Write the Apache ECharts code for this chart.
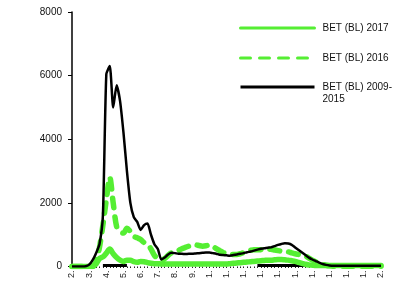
<!DOCTYPE html>
<html lang="en">
<head>
    <meta charset="UTF-8">
    <title>BET (BL)</title>
    <script type="text/javascript" src="https://cdn.jsdelivr.net/npm/echarts@6/dist/echarts.min.js"></script>
    <style>
        html, body { margin: 0; padding: 0; background: #fff; }
    </style>
</head>
<body>
<div id="main" style="width: 393px;height:281px;"></div>
<script>
    // labels shown on the x axis, one every 5 points
    var tickLabels = ['2.', '3.', '4.', '5.', '6.', '7.', '8.', '9.', '1.', '1.', '1.', '1.', '1.', '1.', '1.', '1.', '1.', '1.', '2.'];
    // point index
    var days = [];
    for (var d = 0; d < 91; d++) days.push(String(d));

    // BET (BL) 2017
    var s2017 = [0, 0, 0, 0, 0, 10, 30, 80, 250, 300,
        420, 550, 400, 280, 200, 160, 200, 200, 150, 130,
        160, 150, 120, 100, 90, 90, 80, 80, 80, 80,
        80, 80, 80, 80, 80, 80, 80, 80, 80, 80,
        80, 80, 80, 80, 80, 80, 90, 100, 110, 120,
        130, 140, 150, 160, 170, 180, 190, 200, 200, 210,
        220, 220, 210, 200, 180, 160, 130, 100, 70, 50,
        40, 30, 30, 30, 30, 30, 30, 30, 30, 30,
        30, 30, 30, 30, 30, 30, 30, 30, 30, 30, 30];
    // BET (BL) 2016
    var s2016 = [0, 0, 0, 0, 0, 0, 0, 150, 600, 1300,
        2100, 2800, 2000, 1250, 1100, 1050, 1200, 1100, 950, 900,
        850, 750, 700, 550, 350, 250, 200, 250, 350, 430,
        450, 500, 560, 600, 640, 680, 680, 660, 640, 650,
        680, 640, 560, 500, 440, 400, 380, 380, 380, 400,
        440, 480, 510, 530, 530, 530, 540, 550, 540, 520,
        500, 480, 470, 460, 430, 400, 380, 360, 330, 260,
        200, 150, 110, 70, 40, 20, 10, 10, 10, 10,
        10, 10, 10, 10, 10, 10, 10, 10, 10, 10, 10];
    // BET (BL) 2009-2015
    var s0915 = [0, 0, 0, 0, 10, 60, 200, 420, 700, 1600,
        6050, 6300, 5000, 5700, 5200, 4200, 3000, 2000, 1550, 1400,
        1150, 1300, 1350, 1000, 700, 550, 220, 280, 380, 430,
        420, 400, 400, 390, 400, 400, 410, 420, 430, 440,
        440, 420, 400, 370, 360, 350, 340, 360, 380, 400,
        420, 450, 470, 500, 530, 560, 570, 590, 600, 640,
        680, 710, 730, 720, 680, 600, 520, 440, 360, 280,
        220, 170, 120, 80, 50, 30, 20, 20, 20, 20,
        20, 20, 20, 20, 20, 20, 20, 20, 20, 20, 20];
    // low series sitting on the axis (not in legend)
    var sLow = [null, null, null, null, null, null, null, null, null, 30,
        30, 30, 30, 30, 30, 30, 30, null, null, null,
        null, null, null, null, null, null, null, null, null, null,
        null, null, null, null, null, null, null, null, null, null,
        null, null, null, null, null, null, null, null, null, null,
        null, null, null, null, 30, 30, 30, 30, 30, 30,
        30, 30, 30, 30, 30, 30, 30, 30, 30, 30,
        30, 30, 30, 30, 30, null, null, null, null, null,
        null, null, null, null, null, null, null, null, null, null, null];

    var green = '#55ee33';
    var font = 'Liberation Sans, Arial, sans-serif';

    function legendAt(top, name, fmt) {
        var l = {
            orient: 'vertical',
            left: 234,
            top: top,
            itemWidth: 74,
            itemHeight: 12,
            itemGap: 0,
            data: [name],
            lineStyle: {width: 3},
            itemStyle: {opacity: 0},
            textStyle: {fontFamily: font, fontSize: 10, color: '#111', lineHeight: 12, padding: [0, 0, 0, 3]}
        };
        if (fmt) l.formatter = fmt;
        return l;
    }

    var option = {
        animation: false,
        grid: {left: 72, right: 12, top: 12, bottom: 14},
        legend: [
            legendAt(17, 'BET (BL) 2017'),
            legendAt(47, 'BET (BL) 2016'),
            // blank first line keeps the icon level with "2009-"
            legendAt(64, 'BET (BL) 2009-\n2015', function (n) { return ' \n' + n; })
        ],
        xAxis: {
            type: 'category',
            boundaryGap: false,
            data: days,
            axisLine: {show: false},
            axisTick: {show: true, interval: 0, length: 1.5, inside: false, lineStyle: {color: '#222', width: 1}},
            axisLabel: {
                interval: 4,
                rotate: 90,
                margin: 4,
                fontFamily: font,
                fontSize: 9,
                color: '#222',
                formatter: function (v, i) { return tickLabels[i / 5]; }
            },
            splitLine: {show: false}
        },
        yAxis: {
            type: 'value',
            min: 0,
            max: 8000,
            interval: 2000,
            axisLine: {show: true, lineStyle: {color: '#000', width: 1.5}},
            axisTick: {show: true, length: 4, lineStyle: {color: '#000', width: 1}},
            axisLabel: {
                fontFamily: font, fontSize: 10, color: '#111', margin: 10,
                formatter: function (v) { return String(v); }
            },
            splitLine: {show: false}
        },
        series: [
            {
                name: 'low',
                type: 'line',
                data: sLow,
                symbol: 'none',
                smooth: 0.2,
                lineStyle: {color: '#000', width: 3}
            },
            {
                name: 'BET (BL) 2017',
                type: 'line',
                data: s2017,
                symbol: 'none',
                smooth: 0.3,
                itemStyle: {color: green},
                lineStyle: {color: green, width: 5.5, cap: 'round'}
            },
            {
                name: 'BET (BL) 2016',
                type: 'line',
                data: s2016,
                symbol: 'none',
                smooth: 0.3,
                itemStyle: {color: green},
                lineStyle: {color: green, width: 5.5, type: [10, 9], cap: 'round'}
            },
            {
                name: 'BET (BL) 2009-\n2015',
                type: 'line',
                data: s0915,
                symbol: 'none',
                smooth: 0.2,
                itemStyle: {color: '#000'},
                lineStyle: {color: '#000', width: 2.5}
            }
        ]
    };

    var myChart = echarts.init(document.getElementById('main'));
    myChart.setOption(option);
</script>
</body>
</html>
